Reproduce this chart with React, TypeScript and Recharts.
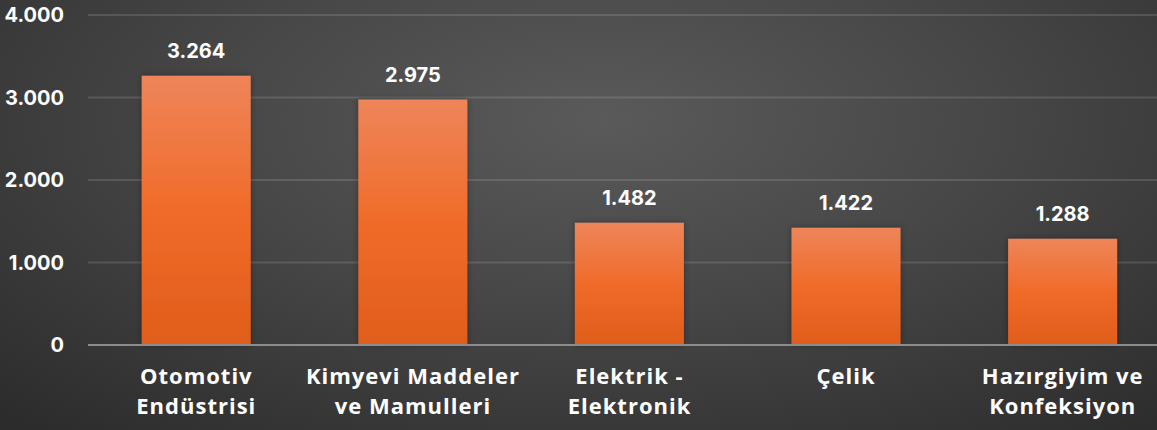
import React from 'react';
import { BarChart, Bar, XAxis, YAxis, CartesianGrid, LabelList, ReferenceLine } from 'recharts';

const categories = ['Otomotiv Endüstrisi', 'Kimyevi Maddeler ve Mamulleri', 'Elektrik - Elektronik', 'Çelik', 'Hazırgiyim ve Konfeksiyon'];
const categoryLines = [['Otomotiv', 'Endüstrisi'], ['Kimyevi Maddeler', 've Mamulleri'], ['Elektrik -', 'Elektronik'], ['Çelik'], ['Hazırgiyim ve', 'Konfeksiyon']];
const values = [3264, 2975, 1482, 1422, 1288];
const yTicks = [0, 1000, 2000, 3000, 4000];

const data = categories.map((c, i) => ({ name: c, value: values[i] }));

const fmt = (v: number) => String(v).replace(/\B(?=(\d{3})+(?!\d))/g, '.');
const FONT = 'Inter, "Open Sans", sans-serif';
const CAT_FONT = '"Open Sans", Inter, sans-serif';

const CatTick = (props: any) => {
  const { x, y, payload } = props;
  const lines = categoryLines[payload.index] || [payload.value];
  return (
    <g transform={`translate(${x},${y})`}>
      {lines.map((l: string, i: number) => (
        <text key={i} x={0} y={i * 30} dy={31} textAnchor="middle" fill="#ffffff" fontSize={22} fontWeight={700} letterSpacing={1} fontFamily={CAT_FONT}>
          {l}
        </text>
      ))}
    </g>
  );
};

export default function App() {
  return (
    <div style={{ position: 'absolute', left: 0, top: 0, width: 1157, height: 430, overflow: 'hidden', background: 'radial-gradient(ellipse 75% 95% at 52% 28%, #5a5a5a 0%, #474747 45%, #2c2c2c 100%)' }}>
      <BarChart width={1171} height={430} data={data} margin={{ top: 15, right: 0, bottom: 0, left: 0 }} barCategoryGap="24.8%">
        <defs>
          <linearGradient id="barGrad" x1="0" y1="0" x2="0" y2="1">
            <stop offset="0%" stopColor="#EE855A" />
            <stop offset="50%" stopColor="#F06B29" />
            <stop offset="100%" stopColor="#E05D1B" />
          </linearGradient>
          <filter id="shadow" x="-20%" y="-20%" width="140%" height="140%">
            <feDropShadow dx="0" dy="0" stdDeviation="3" floodColor="#000" floodOpacity="0.35" />
          </filter>
        </defs>
        <CartesianGrid vertical={false} stroke="rgba(255,255,255,0.13)" strokeWidth={2} />
        <XAxis dataKey="name" axisLine={false} tickLine={false} height={85} interval={0} tick={<CatTick />} />
        <YAxis
          domain={[0, 4000]}
          ticks={yTicks}
          width={88}
          axisLine={false}
          tickLine={false}
          tickSize={0}
          tickMargin={24}
          tickFormatter={fmt}
          tick={{ fill: '#ffffff', fontSize: 20, fontWeight: 700, fontFamily: FONT }}
        />
        <Bar dataKey="value" fill="url(#barGrad)" isAnimationActive={false} filter="url(#shadow)">
          <LabelList dataKey="value" position="top" offset={18} formatter={(v: any) => fmt(v)} fill="#ffffff" fontSize={20} fontWeight={700} fontFamily={FONT} />
        </Bar>
        <ReferenceLine y={0} stroke="#8c8c8c" strokeWidth={2} />
      </BarChart>
    </div>
  );
}
